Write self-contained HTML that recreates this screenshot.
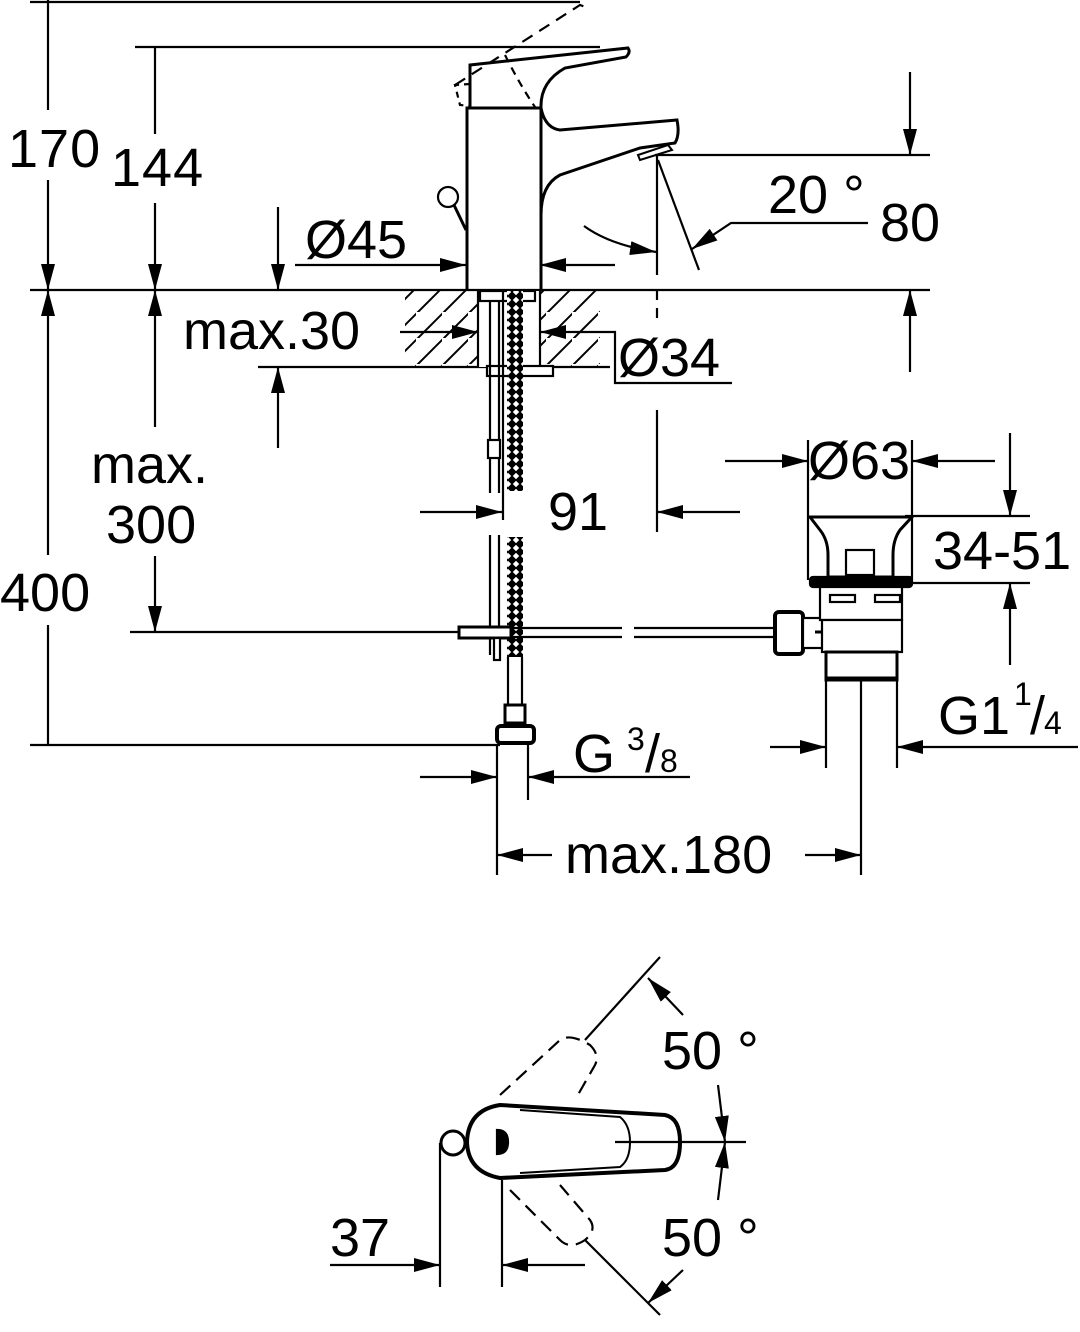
<!DOCTYPE html>
<html><head><meta charset="utf-8"><style>
html,body{margin:0;padding:0;background:#fff}
svg{display:block}
text{font-family:"Liberation Sans",sans-serif;fill:#000}
</style></head><body>
<svg width="1080" height="1332" viewBox="0 0 1080 1332" xmlns="http://www.w3.org/2000/svg">
<defs>
<marker id="a" markerUnits="userSpaceOnUse" markerWidth="26" markerHeight="14" refX="26" refY="7" orient="auto"><path d="M0,0 L26,7 L0,14 Z" fill="#000"/></marker>
<pattern id="hatch" width="26" height="26" patternUnits="userSpaceOnUse"><path d="M-2,30 L30,-2" stroke="#000" stroke-width="2"/></pattern>
<pattern id="mesh" width="8" height="8" patternUnits="userSpaceOnUse"><rect width="8" height="8" fill="#000"/><path d="M4,0.8 L7.2,4 L4,7.2 L0.8,4Z" fill="#fff"/></pattern>
</defs>
<g stroke="#000" stroke-width="2.2" fill="none">
<line x1="30" y1="2" x2="580" y2="2"/>
<line x1="135" y1="47" x2="600" y2="47"/>
<line x1="30" y1="290" x2="930" y2="290"/>
<line x1="655" y1="155" x2="930" y2="155"/>
<line x1="258" y1="367" x2="610" y2="367"/>
<line x1="130" y1="632" x2="460" y2="632"/>
<line x1="30" y1="745" x2="500" y2="745"/>
<line x1="48" y1="0" x2="48" y2="110"/>
<line x1="48" y1="180" x2="48" y2="290" marker-end="url(#a)"/>
<line x1="48" y1="555" x2="48" y2="290" marker-end="url(#a)"/>
<line x1="48" y1="625" x2="48" y2="745"/>
<line x1="155" y1="47" x2="155" y2="134"/>
<line x1="155" y1="203" x2="155" y2="290" marker-end="url(#a)"/>
<line x1="155" y1="427" x2="155" y2="290" marker-end="url(#a)"/>
<line x1="155" y1="556" x2="155" y2="632" marker-end="url(#a)"/>
<line x1="278" y1="207" x2="278" y2="290" marker-end="url(#a)"/>
<line x1="295" y1="265" x2="466" y2="265" marker-end="url(#a)"/>
<line x1="615" y1="265" x2="540" y2="265" marker-end="url(#a)"/>
<line x1="278" y1="448" x2="278" y2="367" marker-end="url(#a)"/>
<line x1="400" y1="332" x2="478" y2="332" marker-end="url(#a)"/>
<line x1="605" y1="332" x2="540" y2="332" marker-end="url(#a)"/>
<polyline points="605,332 615,332 615,383 732,383"/>
<line x1="910" y1="72" x2="910" y2="155" marker-end="url(#a)"/>
<line x1="910" y1="372" x2="910" y2="290" marker-end="url(#a)"/>
<line x1="657" y1="155" x2="657" y2="275"/>
<line x1="657" y1="290" x2="657" y2="320" stroke-dasharray="10,8"/>
<line x1="657" y1="410" x2="657" y2="532"/>
<line x1="658" y1="160" x2="699" y2="270"/>
<polyline points="868,223 731,223 692,249" marker-end="url(#a)"/>
<path d="M584,226 Q610,245 656,252" marker-end="url(#a)"/>
<line x1="420" y1="512" x2="502" y2="512" marker-end="url(#a)"/>
<line x1="740" y1="512" x2="657" y2="512" marker-end="url(#a)"/>
<line x1="725" y1="461" x2="808" y2="461" marker-end="url(#a)"/>
<line x1="995" y1="461" x2="912" y2="461" marker-end="url(#a)"/>
<line x1="808" y1="440" x2="808" y2="580"/>
<line x1="912" y1="440" x2="912" y2="580"/>
<line x1="905" y1="516" x2="1030" y2="516"/>
<line x1="908" y1="583" x2="1030" y2="583"/>
<line x1="1010" y1="433" x2="1010" y2="516" marker-end="url(#a)"/>
<line x1="1010" y1="665" x2="1010" y2="583" marker-end="url(#a)"/>
<line x1="826" y1="680" x2="826" y2="768"/>
<line x1="897" y1="680" x2="897" y2="768"/>
<line x1="861" y1="680" x2="861" y2="875"/>
<line x1="770" y1="747" x2="826" y2="747" marker-end="url(#a)"/>
<line x1="1078" y1="747" x2="897" y2="747" marker-end="url(#a)"/>
<line x1="497" y1="745" x2="497" y2="875"/>
<line x1="528" y1="745" x2="528" y2="800"/>
<line x1="420" y1="777" x2="497" y2="777" marker-end="url(#a)"/>
<line x1="690" y1="777" x2="528" y2="777" marker-end="url(#a)"/>
<line x1="552" y1="855" x2="497" y2="855" marker-end="url(#a)"/>
<line x1="805" y1="855" x2="861" y2="855" marker-end="url(#a)"/>

<rect x="405" y="291" width="195" height="75" fill="url(#hatch)" stroke="none"/>
<rect x="478" y="291" width="62" height="76" fill="#fff" stroke="none"/>
<line x1="478" y1="291" x2="478" y2="367"/><line x1="540" y1="291" x2="540" y2="367"/>
<path d="M467,290 L467,108 L541,108 L541,290" stroke-width="3"/>
<path d="M541,108 Q545,128 560,130 L677,120 Q680,135 675,143 L640,148 L560,175 Q541,185 541,215" stroke-width="3"/>
<path d="M470,108 L470,65 L628,48 Q631,52 626,57 L565,68 Q540,82 541,108" stroke-width="3"/>
<path d="M638,155 L668,145 L672,150 L640,160Z" stroke-width="2"/>
<path d="M470,84 L455,85 L460,105 L470,106" stroke-dasharray="6,5"/>
<path d="M455,85 L580,5 L588,8" stroke-dasharray="12,8"/>
<path d="M505,55 Q520,85 535,107" stroke-dasharray="8,6"/>
<circle cx="448" cy="197" r="10"/>
<line x1="454" y1="205" x2="466" y2="230" stroke-width="3"/>
<rect x="480" y="291" width="55" height="10" fill="#fff"/>
<rect x="487" y="366" width="66" height="10" fill="#fff"/>
<line x1="490" y1="300" x2="490" y2="493"/><line x1="499" y1="300" x2="499" y2="493"/>
<line x1="490" y1="535" x2="490" y2="655"/><line x1="499" y1="535" x2="499" y2="655"/>
<line x1="503" y1="291" x2="503" y2="520"/>
<rect x="507" y="291" width="16" height="200" fill="url(#mesh)" stroke="none"/>
<rect x="507" y="537" width="16" height="120" fill="url(#mesh)" stroke="none"/>
<rect x="488" y="440" width="12" height="18" fill="#fff"/>
<line x1="508" y1="657" x2="508" y2="705"/><line x1="522" y1="657" x2="522" y2="705"/>
<rect x="505" y="705" width="20" height="18" fill="#fff" stroke-width="3"/>
<rect x="497" y="726" width="37" height="17" rx="4" fill="#fff" stroke-width="4"/>
<rect x="459" y="627" width="52" height="11" fill="#fff" stroke-width="3"/>
<rect x="494" y="638" width="6" height="22" fill="#fff"/>
<line x1="511" y1="628" x2="622" y2="628"/><line x1="511" y1="637" x2="622" y2="637"/>
<line x1="634" y1="628" x2="775" y2="628"/><line x1="634" y1="637" x2="775" y2="637"/>
<rect x="775" y="612" width="28" height="42" rx="4" fill="#fff" stroke-width="4"/>
<rect x="803" y="618" width="20" height="30" fill="#fff"/>
<line x1="815" y1="632" x2="830" y2="632" stroke-width="3"/>
<path d="M810,517 L912,517 L900,530 Q893,540 893,555 L893,577 L828,577 L828,555 Q828,540 820,530Z" fill="#fff" stroke-width="3"/>
<rect x="846" y="550" width="28" height="25" fill="#fff"/>
<rect x="810" y="577" width="102" height="10" rx="3" fill="#000"/>
<rect x="820" y="587" width="82" height="33" fill="#fff"/>
<rect x="830" y="595" width="25" height="7"/><rect x="875" y="595" width="25" height="7"/>
<rect x="822" y="620" width="80" height="32" fill="#fff"/>
<rect x="826" y="652" width="71" height="28" fill="#fff" stroke-width="3"/>
<line x1="826" y1="679" x2="897" y2="679" stroke-width="5"/>

<circle cx="453" cy="1143" r="12" stroke-width="3"/>
<line x1="440" y1="1143" x2="440" y2="1287"/>
<line x1="502" y1="1180" x2="502" y2="1287"/>
<line x1="330" y1="1265" x2="440" y2="1265" marker-end="url(#a)"/>
<line x1="585" y1="1265" x2="502" y2="1265" marker-end="url(#a)"/>
<path d="M500,1105 L665,1115 Q680,1118 680,1142 Q680,1168 665,1170 L500,1178 Q468,1172 467,1142 Q468,1110 500,1105Z" stroke-width="4" fill="#fff"/>
<path d="M520,1110 L620,1117 Q630,1125 630,1142 Q630,1160 620,1167 L520,1173" stroke-width="2"/>
<path d="M497,1130 Q508,1130 508,1142 Q508,1154 497,1154Z" fill="#000"/>
<line x1="615" y1="1142" x2="746" y2="1142"/>
<line x1="660" y1="957" x2="585" y2="1040"/>
<line x1="660" y1="1315" x2="585" y2="1240"/>
<path d="M500,1095 L560,1040 Q570,1033 590,1045 Q600,1055 595,1065 L575,1100" stroke-dasharray="14,8"/>
<path d="M510,1190 L560,1240 Q570,1250 585,1240 Q597,1230 590,1220 L560,1185" stroke-dasharray="14,8"/>
<line x1="683" y1="1015" x2="648" y2="978" marker-end="url(#a)"/>
<line x1="718" y1="1085" x2="725" y2="1142" marker-end="url(#a)"/>
<line x1="718" y1="1200" x2="725" y2="1142" marker-end="url(#a)"/>
<line x1="683" y1="1270" x2="648" y2="1303" marker-end="url(#a)"/>
</g>
<g font-size="54">
<text x="8" y="167" letter-spacing="1">170</text>
<text x="111" y="186" letter-spacing="1">144</text>
<text x="305" y="258">Ø45</text>
<text x="183" y="349">max.30</text>
<text x="618" y="376">Ø34</text>
<text x="768" y="213">20 °</text>
<text x="880" y="241">80</text>
<text x="91" y="483">max.</text>
<text x="106" y="543">300</text>
<text x="0" y="611">400</text>
<text x="548" y="530">91</text>
<text x="808" y="479">Ø63</text>
<text x="933" y="569">34-51</text>
<text x="938" y="734">G1</text>
<text font-size="32" x="1014" y="705">1</text>
<text x="1030" y="734">/</text>
<text font-size="32" x="1044" y="734">4</text>
<text x="573" y="772">G</text>
<text font-size="32" x="627" y="750">3</text>
<text x="645" y="772">/</text>
<text font-size="32" x="660" y="772">8</text>
<text x="565" y="873">max.180</text>
<text x="662" y="1069">50 °</text>
<text x="662" y="1256">50 °</text>
<text x="330" y="1256">37</text>
</g>
</svg>
</body></html>
